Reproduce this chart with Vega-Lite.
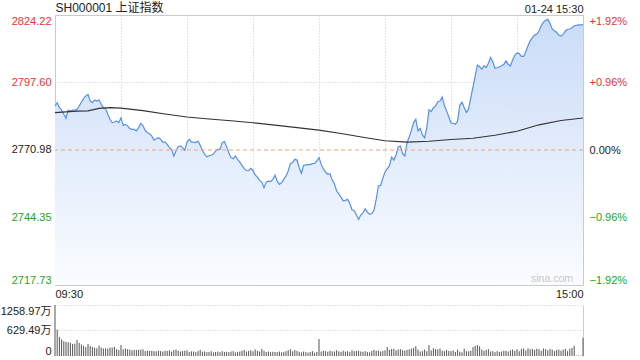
{
"$schema": "https://vega.github.io/schema/vega-lite/v6.json",
"padding": {"left": 0, "top": 0, "right": 5, "bottom": 0},
"background": "white",
"bounds": "flush",
"spacing": 20,
"config": {
  "font": "Liberation Sans, Noto Sans CJK SC, sans-serif",
  "view": {"stroke": "#cccccc"},
  "axis": {"labelFont": "Liberation Sans, Noto Sans CJK SC, sans-serif", "labelFontSize": 11, "labelColor": "#222222", "domain": false, "ticks": false, "tickSize": 0, "title": null, "gridColor": "#c8c8c8", "gridDash": [1, 2], "labelOverlap": false}
},
"datasets": {
"price": [
{"m":0,"p":2788.33},{"m":1,"p":2789.65},{"m":2,"p":2787.67},{"m":3,"p":2786.75},{"m":4,"p":2785.04},{"m":5,"p":2783.47},{"m":6,"p":2786.75},{"m":7,"p":2786.36},{"m":8,"p":2786.75},{"m":9,"p":2786.75},
{"m":10,"p":2787.0},{"m":11,"p":2788.33},{"m":12,"p":2789.9},{"m":13,"p":2791.2},{"m":14,"p":2792.3},{"m":15,"p":2792.9},{"m":16,"p":2790.3},{"m":17,"p":2789.65},{"m":18,"p":2790.7},{"m":19,"p":2790.3},
{"m":20,"p":2790.7},{"m":21,"p":2789.0},{"m":22,"p":2787.67},{"m":23,"p":2787.3},{"m":24,"p":2785.04},{"m":25,"p":2783.07},{"m":26,"p":2781.76},{"m":27,"p":2782.0},{"m":28,"p":2782.4},{"m":29,"p":2781.76},
{"m":30,"p":2783.73},{"m":31,"p":2780.7},{"m":32,"p":2781.1},{"m":33,"p":2780.5},{"m":34,"p":2779.4},{"m":35,"p":2779.1},{"m":36,"p":2779.1},{"m":37,"p":2778.5},{"m":38,"p":2779.8},{"m":39,"p":2781.4},
{"m":40,"p":2780.5},{"m":41,"p":2778.7},{"m":42,"p":2777.8},{"m":43,"p":2777.4},{"m":44,"p":2776.5},{"m":45,"p":2774.9},{"m":46,"p":2775.4},{"m":47,"p":2775.8},{"m":48,"p":2775.2},{"m":49,"p":2774.1},
{"m":50,"p":2774.1},{"m":51,"p":2773.2},{"m":52,"p":2771.9},{"m":53,"p":2771.2},{"m":54,"p":2768.6},{"m":55,"p":2770.6},{"m":56,"p":2772.3},{"m":57,"p":2772.6},{"m":58,"p":2771.9},{"m":59,"p":2770.9},
{"m":60,"p":2774.1},{"m":61,"p":2775.18},{"m":62,"p":2774.1},{"m":63,"p":2774.1},{"m":64,"p":2773.9},{"m":65,"p":2774.5},{"m":66,"p":2772.8},{"m":67,"p":2770.8},{"m":68,"p":2769.3},{"m":69,"p":2768.3},
{"m":70,"p":2768.7},{"m":71,"p":2768.9},{"m":72,"p":2769.4},{"m":73,"p":2770.6},{"m":74,"p":2771.2},{"m":75,"p":2771.2},{"m":76,"p":2773.9},{"m":77,"p":2774.3},{"m":78,"p":2772.3},{"m":79,"p":2769.9},
{"m":80,"p":2767.95},{"m":81,"p":2767.55},{"m":82,"p":2768.6},{"m":83,"p":2767.3},{"m":84,"p":2766.2},{"m":85,"p":2764.9},{"m":86,"p":2763.6},{"m":87,"p":2762.9},{"m":88,"p":2762.8},{"m":89,"p":2763.7},
{"m":90,"p":2762.9},{"m":91,"p":2761.1},{"m":92,"p":2760.3},{"m":93,"p":2759.0},{"m":94,"p":2758.3},{"m":95,"p":2756.1},{"m":96,"p":2758.3},{"m":97,"p":2758.7},{"m":98,"p":2758.5},{"m":99,"p":2759.4},
{"m":100,"p":2761.0},{"m":101,"p":2758.7},{"m":102,"p":2757.4},{"m":103,"p":2758.1},{"m":104,"p":2759.4},{"m":105,"p":2760.7},{"m":106,"p":2762.7},{"m":107,"p":2765.6},{"m":108,"p":2766.0},{"m":109,"p":2767.3},
{"m":110,"p":2767.0},{"m":111,"p":2764.0},{"m":112,"p":2761.8},{"m":113,"p":2764.9},{"m":114,"p":2765.1},{"m":115,"p":2765.2},{"m":116,"p":2765.2},{"m":117,"p":2765.6},{"m":118,"p":2765.7},{"m":119,"p":2766.6},
{"m":120,"p":2767.95},{"m":121,"p":2765.3},{"m":122,"p":2763.5},{"m":123,"p":2762.2},{"m":124,"p":2761.4},{"m":125,"p":2761.6},{"m":126,"p":2759.1},{"m":127,"p":2757.7},{"m":128,"p":2754.8},{"m":129,"p":2753.7},
{"m":130,"p":2752.4},{"m":131,"p":2750.9},{"m":132,"p":2751.1},{"m":133,"p":2751.5},{"m":134,"p":2749.9},{"m":135,"p":2747.4},{"m":136,"p":2747.0},{"m":137,"p":2745.3},{"m":138,"p":2743.6},{"m":139,"p":2745.3},
{"m":140,"p":2746.2},{"m":141,"p":2747.8},{"m":142,"p":2746.4},{"m":143,"p":2745.6},{"m":144,"p":2745.9},{"m":145,"p":2747.2},{"m":146,"p":2751.5},{"m":147,"p":2756.8},{"m":148,"p":2757.0},{"m":149,"p":2759.8},
{"m":150,"p":2762.3},{"m":151,"p":2763.5},{"m":152,"p":2764.7},{"m":153,"p":2768.2},{"m":154,"p":2767.0},{"m":155,"p":2768.9},{"m":156,"p":2772.2},{"m":157,"p":2772.5},{"m":158,"p":2769.5},{"m":159,"p":2768.6},
{"m":160,"p":2773.9},{"m":161,"p":2776.1},{"m":162,"p":2778.7},{"m":163,"p":2781.8},{"m":164,"p":2783.1},{"m":165,"p":2778.5},{"m":166,"p":2779.5},{"m":167,"p":2776.9},{"m":168,"p":2775.8},{"m":169,"p":2779.8},
{"m":170,"p":2786.9},{"m":171,"p":2786.1},{"m":172,"p":2787.7},{"m":173,"p":2788.3},{"m":174,"p":2790.0},{"m":175,"p":2790.3},{"m":176,"p":2791.9},{"m":177,"p":2788.5},{"m":178,"p":2786.4},{"m":179,"p":2784.0},
{"m":180,"p":2781.6},{"m":181,"p":2781.5},{"m":182,"p":2781.1},{"m":183,"p":2782.4},{"m":184,"p":2788.7},{"m":185,"p":2789.8},{"m":186,"p":2787.7},{"m":187,"p":2785.8},{"m":188,"p":2787.1},{"m":189,"p":2791.6},
{"m":190,"p":2795.9},{"m":191,"p":2800.2},{"m":192,"p":2804.5},{"m":193,"p":2803.8},{"m":194,"p":2802.9},{"m":195,"p":2804.2},{"m":196,"p":2803.6},{"m":197,"p":2805.2},{"m":198,"p":2807.5},{"m":199,"p":2805.8},
{"m":200,"p":2803.2},{"m":201,"p":2803.4},{"m":202,"p":2803.8},{"m":203,"p":2804.2},{"m":204,"p":2804.8},{"m":205,"p":2806.1},{"m":206,"p":2804.8},{"m":207,"p":2804.1},{"m":208,"p":2806.5},{"m":209,"p":2808.3},
{"m":210,"p":2809.2},{"m":211,"p":2809.1},{"m":212,"p":2807.9},{"m":213,"p":2807.9},{"m":214,"p":2809.8},{"m":215,"p":2812.1},{"m":216,"p":2814.0},{"m":217,"p":2815.3},{"m":218,"p":2816.3},{"m":219,"p":2816.7},
{"m":220,"p":2817.9},{"m":221,"p":2820.0},{"m":222,"p":2821.3},{"m":223,"p":2822.1},{"m":224,"p":2822.5},{"m":225,"p":2820.9},{"m":226,"p":2818.7},{"m":227,"p":2818.0},{"m":228,"p":2817.4},{"m":229,"p":2816.3},
{"m":230,"p":2815.9},{"m":231,"p":2816.7},{"m":232,"p":2817.9},{"m":233,"p":2818.6},{"m":234,"p":2818.7},{"m":235,"p":2819.2},{"m":236,"p":2820.0},{"m":237,"p":2820.1},{"m":238,"p":2820.3},{"m":239,"p":2820.3},
{"m":240,"p":2820.4}
],
"avg": [
{"m":0,"a":2785.7},{"m":5,"a":2786.0},{"m":10,"a":2786.3},{"m":15,"a":2786.4},{"m":20,"a":2787.4},{"m":25,"a":2787.7},{"m":30,"a":2787.5},{"m":35,"a":2787.0},{"m":40,"a":2786.5},{"m":50,"a":2785.2},
{"m":60,"a":2784.0},{"m":70,"a":2783.2},{"m":80,"a":2782.5},{"m":90,"a":2781.7},{"m":100,"a":2780.8},{"m":110,"a":2779.8},{"m":120,"a":2778.8},{"m":130,"a":2777.5},{"m":140,"a":2776.0},{"m":150,"a":2774.6},
{"m":160,"a":2774.1},{"m":170,"a":2774.4},{"m":180,"a":2775.1},{"m":190,"a":2775.6},{"m":200,"a":2776.8},{"m":210,"a":2778.4},{"m":220,"a":2780.9},{"m":230,"a":2782.6},{"m":240,"a":2783.6}
],
"vol": [
{"m":0,"v":1258.97},{"m":1,"v":650},{"m":2,"v":470},{"m":3,"v":410},{"m":4,"v":365},{"m":5,"v":345},{"m":6,"v":340},{"m":7,"v":325},{"m":8,"v":300},{"m":9,"v":305},
{"m":10,"v":395},{"m":11,"v":325},{"m":12,"v":285},{"m":13,"v":250},{"m":14,"v":220},{"m":15,"v":300},{"m":16,"v":250},{"m":17,"v":225},{"m":18,"v":205},{"m":19,"v":190},
{"m":20,"v":255},{"m":21,"v":210},{"m":22,"v":185},{"m":23,"v":190},{"m":24,"v":180},{"m":25,"v":210},{"m":26,"v":205},{"m":27,"v":225},{"m":28,"v":165},{"m":29,"v":150},
{"m":30,"v":270},{"m":31,"v":165},{"m":32,"v":185},{"m":33,"v":165},{"m":34,"v":160},{"m":35,"v":140},{"m":36,"v":150},{"m":37,"v":150},{"m":38,"v":150},{"m":39,"v":160},
{"m":40,"v":165},{"m":41,"v":120},{"m":42,"v":130},{"m":43,"v":125},{"m":44,"v":130},{"m":45,"v":120},{"m":46,"v":115},{"m":47,"v":125},{"m":48,"v":120},{"m":49,"v":110},
{"m":50,"v":130},{"m":51,"v":125},{"m":52,"v":140},{"m":53,"v":110},{"m":54,"v":150},{"m":55,"v":160},{"m":56,"v":130},{"m":57,"v":110},{"m":58,"v":120},{"m":59,"v":130},
{"m":60,"v":140},{"m":61,"v":100},{"m":62,"v":115},{"m":63,"v":110},{"m":64,"v":95},{"m":65,"v":120},{"m":66,"v":150},{"m":67,"v":105},{"m":68,"v":110},{"m":69,"v":95},
{"m":70,"v":100},{"m":71,"v":120},{"m":72,"v":90},{"m":73,"v":100},{"m":74,"v":110},{"m":75,"v":95},{"m":76,"v":120},{"m":77,"v":100},{"m":78,"v":105},{"m":79,"v":95},
{"m":80,"v":110},{"m":81,"v":120},{"m":82,"v":90},{"m":83,"v":100},{"m":84,"v":110},{"m":85,"v":130},{"m":86,"v":150},{"m":87,"v":110},{"m":88,"v":125},{"m":89,"v":140},
{"m":90,"v":115},{"m":91,"v":160},{"m":92,"v":125},{"m":93,"v":110},{"m":94,"v":175},{"m":95,"v":130},{"m":96,"v":100},{"m":97,"v":110},{"m":98,"v":95},{"m":99,"v":105},
{"m":100,"v":100},{"m":101,"v":95},{"m":102,"v":110},{"m":103,"v":90},{"m":104,"v":100},{"m":105,"v":120},{"m":106,"v":140},{"m":107,"v":165},{"m":108,"v":115},{"m":109,"v":150},
{"m":110,"v":125},{"m":111,"v":105},{"m":112,"v":90},{"m":113,"v":110},{"m":114,"v":95},{"m":115,"v":85},{"m":116,"v":100},{"m":117,"v":120},{"m":118,"v":80},{"m":119,"v":100},
{"m":120,"v":420},{"m":121,"v":110},{"m":122,"v":130},{"m":123,"v":120},{"m":124,"v":105},{"m":125,"v":130},{"m":126,"v":115},{"m":127,"v":110},{"m":128,"v":140},{"m":129,"v":115},
{"m":130,"v":100},{"m":131,"v":130},{"m":132,"v":110},{"m":133,"v":120},{"m":134,"v":95},{"m":135,"v":140},{"m":136,"v":120},{"m":137,"v":125},{"m":138,"v":130},{"m":139,"v":110},
{"m":140,"v":105},{"m":141,"v":120},{"m":142,"v":95},{"m":143,"v":90},{"m":144,"v":125},{"m":145,"v":150},{"m":146,"v":130},{"m":147,"v":135},{"m":148,"v":110},{"m":149,"v":125},
{"m":150,"v":140},{"m":151,"v":220},{"m":152,"v":150},{"m":153,"v":170},{"m":154,"v":180},{"m":155,"v":140},{"m":156,"v":160},{"m":157,"v":170},{"m":158,"v":140},{"m":159,"v":135},
{"m":160,"v":150},{"m":161,"v":165},{"m":162,"v":180},{"m":163,"v":200},{"m":164,"v":240},{"m":165,"v":160},{"m":166,"v":110},{"m":167,"v":120},{"m":168,"v":160},{"m":169,"v":120},
{"m":170,"v":270},{"m":171,"v":140},{"m":172,"v":190},{"m":173,"v":170},{"m":174,"v":165},{"m":175,"v":185},{"m":176,"v":130},{"m":177,"v":120},{"m":178,"v":150},{"m":179,"v":125},
{"m":180,"v":120},{"m":181,"v":140},{"m":182,"v":100},{"m":183,"v":160},{"m":184,"v":110},{"m":185,"v":90},{"m":186,"v":180},{"m":187,"v":120},{"m":188,"v":115},{"m":189,"v":130},
{"m":190,"v":220},{"m":191,"v":250},{"m":192,"v":270},{"m":193,"v":240},{"m":194,"v":160},{"m":195,"v":130},{"m":196,"v":150},{"m":197,"v":170},{"m":198,"v":110},{"m":199,"v":120},
{"m":200,"v":95},{"m":201,"v":120},{"m":202,"v":100},{"m":203,"v":110},{"m":204,"v":130},{"m":205,"v":125},{"m":206,"v":110},{"m":207,"v":140},{"m":208,"v":160},{"m":209,"v":130},
{"m":210,"v":170},{"m":211,"v":120},{"m":212,"v":175},{"m":213,"v":185},{"m":214,"v":140},{"m":215,"v":190},{"m":216,"v":165},{"m":217,"v":175},{"m":218,"v":150},{"m":219,"v":180},
{"m":220,"v":170},{"m":221,"v":130},{"m":222,"v":185},{"m":223,"v":170},{"m":224,"v":140},{"m":225,"v":175},{"m":226,"v":160},{"m":227,"v":120},{"m":228,"v":150},{"m":229,"v":160},
{"m":230,"v":130},{"m":231,"v":160},{"m":232,"v":175},{"m":233,"v":120},{"m":234,"v":180},{"m":235,"v":200},{"m":236,"v":250},{"m":237,"v":10},{"m":238,"v":10},{"m":239,"v":10},
{"m":240,"v":450}
]
},
"vconcat": [
{
  "width": 528,
  "height": 270,
  "layer": [
    {
      "layer": [
        {
          "data": {"name": "price"},
          "mark": {"type": "area", "color": {"gradient": "linear", "x1": 0, "y1": 0, "x2": 0, "y2": 1, "stops": [{"offset": 0, "color": "#cadcf8"}, {"offset": 1, "color": "#fafcff"}]}},
          "encoding": {
            "x": {"field": "m", "type": "quantitative", "scale": {"domain": [0, 240], "nice": false, "zero": false},
                  "axis": {"orient": "bottom", "values": [0, 30, 60, 90, 120, 150, 180, 210, 240], "labelExpr": "datum.value == 0 ? '09:30' : datum.value == 240 ? '15:00' : ''", "labelFlush": true, "labelPadding": 3, "grid": true}},
            "y": {"field": "p", "type": "quantitative", "scale": {"domain": [2717.73, 2824.22], "nice": false, "zero": false},
                  "axis": {"orient": "left", "values": [2717.73, 2744.35, 2770.98, 2797.60, 2824.22], "format": ".2f", "labelFlush": true, "labelPadding": 4, "grid": true,
                           "gridOpacity": {"condition": {"test": "abs(datum.value - 2770.98) < 0.01", "value": 0}, "value": 1},
                           "labelColor": {"condition": [{"test": "datum.value > 2771", "value": "#f03030"}, {"test": "datum.value < 2770", "value": "#20a820"}], "value": "#222222"}}},
            "y2": {"datum": 2717.73}
          }
        },
        {
          "data": {"name": "price"},
          "mark": {"type": "line", "color": "#5590ee", "strokeWidth": 1.2},
          "encoding": {
            "x": {"field": "m", "type": "quantitative", "axis": null},
            "y": {"field": "p", "type": "quantitative"}
          }
        },
        {
          "data": {"name": "avg"},
          "mark": {"type": "line", "color": "#333333", "strokeWidth": 1.1},
          "encoding": {
            "x": {"field": "m", "type": "quantitative",
                  "axis": {"orient": "top", "values": [0, 240], "grid": false, "labelFlush": true, "labelPadding": 1,
                           "labelExpr": "datum.value == 0 ? 'SH000001 上证指数' : '01-24 15:30'",
                           "labelFontSize": {"condition": {"test": "datum.value == 0", "value": 12}, "value": 11}}},
            "y": {"field": "a", "type": "quantitative"}
          }
        },
        {
          "data": {"values": [{"t": "sina.com"}]},
          "mark": {"type": "text", "color": "#c8c8c8", "fontSize": 10.5, "align": "right", "baseline": "alphabetic", "dx": -10, "dy": -3, "font": "Liberation Sans"},
          "encoding": {
            "x": {"datum": 240, "type": "quantitative", "axis": null},
            "y": {"datum": 2717.73, "type": "quantitative"},
            "text": {"field": "t"}
          }
        }
      ],
      "resolve": {"axis": {"x": "independent"}}
    },
    {
      "data": {"values": [{"t": 0}]},
      "mark": {"type": "rule", "color": "#f0a276", "strokeDash": [4, 3], "strokeWidth": 1},
      "encoding": {
        "y": {"datum": 0, "type": "quantitative", "scale": {"domain": [-1.92, 1.92], "nice": false, "zero": false},
              "axis": {"orient": "right", "values": [-1.92, -0.96, 0, 0.96, 1.92], "labelFlush": true, "labelPadding": 6, "grid": false,
                       "labelExpr": "(datum.value > 0 ? '+' : '') + format(datum.value, '.2f') + '%'",
                       "labelColor": {"condition": [{"test": "datum.value > 0.01", "value": "#f03030"}, {"test": "datum.value < -0.01", "value": "#20a820"}], "value": "#222222"}}}
      }
    }
  ],
  "resolve": {"scale": {"y": "independent"}, "axis": {"y": "independent", "x": "independent"}}
},
{
  "width": 528,
  "height": 51,
  "view": {"stroke": null},
  "data": {"name": "vol"},
  "mark": {"type": "rule", "color": "#555555", "strokeWidth": 1},
  "encoding": {
    "x": {"field": "m", "type": "quantitative", "scale": {"domain": [0, 240], "nice": false, "zero": false},
          "axis": {"orient": "bottom", "values": [240], "labels": false, "grid": true, "gridDash": [], "gridColor": "#cccccc"}},
    "y": {"field": "v", "type": "quantitative", "scale": {"domain": [0, 1258.97], "nice": false},
          "axis": {"orient": "left", "values": [0, 629.49, 1258.97], "labelFlush": true, "labelPadding": 4, "grid": true,
                   "labelExpr": "datum.value == 0 ? '0' : format(datum.value, '.2f') + '万'",
                   "gridOpacity": {"condition": {"test": "datum.value == 0", "value": 0}, "value": 1}}},
    "y2": {"datum": 0}
  }
}
]
}
